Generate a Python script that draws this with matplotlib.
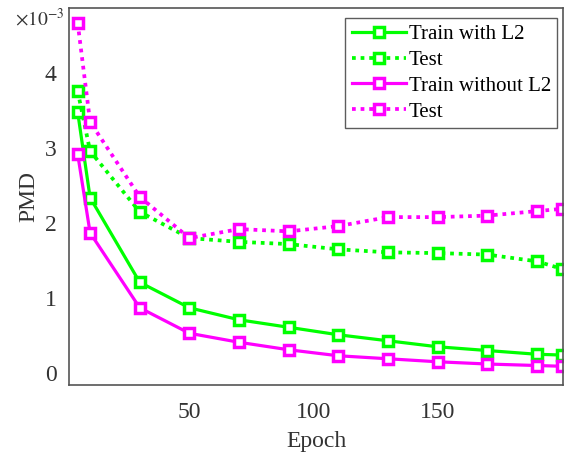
import matplotlib
matplotlib.use("Agg")
import matplotlib.pyplot as plt

epochs = [5, 10, 30, 50, 70, 90, 110, 130, 150, 170, 190, 200]
# values in units of 1e-3
train_l2 = [3.48, 2.34, 1.21, 0.87, 0.71, 0.61, 0.51, 0.43, 0.35, 0.30, 0.25, 0.24]
test_l2 = [3.76, 2.96, 2.15, 1.80, 1.75, 1.72, 1.65, 1.61, 1.60, 1.58, 1.49, 1.39]
train_nol2 = [2.92, 1.87, 0.87, 0.53, 0.41, 0.31, 0.23, 0.19, 0.15, 0.12, 0.10, 0.09]
test_nol2 = [4.67, 3.35, 2.35, 1.80, 1.92, 1.89, 1.96, 2.08, 2.08, 2.10, 2.16, 2.19]
labels = ["Train with L2", "Test", "Train without L2", "Test"]

plt.rcParams['font.family'] = ['Liberation Serif', 'DejaVu Serif']
plt.rcParams['mathtext.fontset'] = 'stix'
fig = plt.figure(figsize=(5.66, 4.53), dpi=100)
ax = fig.add_axes([69/566, 68/453, (563-69)/566, (385-8)/453])

green = '#00ff00'
mag = '#ff00ff'
mk = dict(marker='s', markersize=6.5, markerfacecolor='white', markeredgewidth=2.5)
dots = (1.0, 1.3)
ax.plot(epochs, train_l2, '-', color=green, lw=2.3, label=labels[0], **mk)
ax.plot(epochs, test_l2, color=green, lw=2.7, dashes=dots, label=labels[1], **mk)
ax.plot(epochs, train_nol2, '-', color=mag, lw=2.3, label=labels[2], **mk)
ax.plot(epochs, test_nol2, color=mag, lw=2.7, dashes=dots, label=labels[3], **mk)

ax.set_xlim(1.5, 200.5)
ax.set_ylim(-0.16, 4.87)
ax.set_xticks([50, 100, 150])
ax.set_yticks([0, 1, 2, 3, 4])
ax.tick_params(length=0, labelsize=17, colors='#333333')
ax.tick_params(axis='x', pad=12)
ax.tick_params(axis='y', pad=9)
for s in ax.spines.values():
    s.set_color('#555555')
    s.set_linewidth(1.2)

ax.set_xlabel('Epoch', fontsize=17, color='#333333', labelpad=6)
ax.set_ylabel('PMD', fontsize=17, color='#333333', labelpad=4)
fig.text(15/566, 1 - 19/453, r'$\times10^{-3}$', fontsize=14, color='#333333',
         va='center', ha='left')

leg = ax.legend(loc='upper right', bbox_to_anchor=(0.9885, 0.973), fontsize=15,
                handlelength=2.6, handletextpad=0.15, borderpad=0.3, labelspacing=0.3,
                borderaxespad=0, fancybox=False, frameon=True)
leg.get_frame().set_edgecolor('#333333')
leg.get_frame().set_linewidth(1.0)

fig.savefig('out.png', dpi=100)
